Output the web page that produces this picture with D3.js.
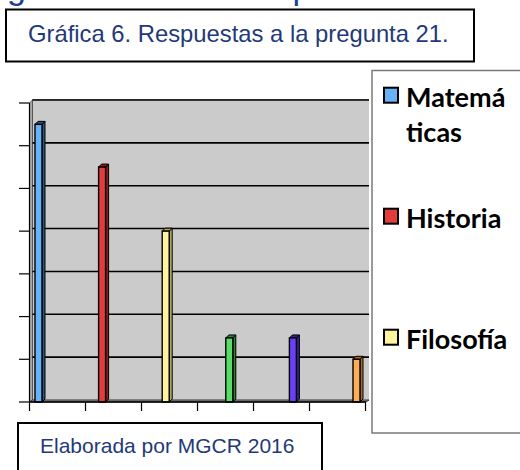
<!DOCTYPE html>
<html>
<head>
<meta charset="utf-8">
<script src="https://cdn.jsdelivr.net/npm/d3@7"></script>
<style>
  html, body { margin: 0; padding: 0; background: #ffffff; }
  svg { display: block; }
</style>
</head>
<body>
<svg id="chart" width="520" height="470"></svg>
<script>
// ---- data ----
const categories = ["Matemáticas", "Historia", "Filosofía", "Química", "Biología", "Otras"];
const values = [13, 11, 8, 3, 3, 2];
const legendLines = [["Matemá", "ticas"], ["Historia"], ["Filosofía"]];
const yTicks = [0, 2, 4, 6, 8, 10, 12, 14];
const xTickIdx = [0, 1, 2, 3, 4, 5, 6];
const colors = ["#68b3f7", "#e23c3c", "#fff39c", "#58de68", "#6a40f2", "#ffac58"];
const sideColors = ["#2f5478", "#8e1c1c", "#b0a862", "#2b7d33", "#381e94", "#a86c22"];
const titleText = "Gráfica 6. Respuestas a la pregunta 21.";
const sourceText = "Elaborada por MGCR 2016";
const headerText = "gráfica con el total por alumno";

const svg = d3.select("#chart");

// header text cut off at top (as in the reference)
svg.append("text").attr("x", 7).attr("y", -1.5)
  .attr("font-family", "'Liberation Sans', Arial, sans-serif")
  .attr("font-size", 34).attr("fill", "#1d3f8f").text(headerText);

// title box
svg.append("rect").attr("x", 6).attr("y", 9.5).attr("width", 468).attr("height", 52)
  .attr("fill", "#fff").attr("stroke", "#000").attr("stroke-width", 2);
svg.append("text").attr("x", 28).attr("y", 42)
  .attr("font-family", "'Liberation Sans', Arial, sans-serif")
  .attr("font-size", 23.8).attr("fill", "#1f3a78").text(titleText);

// ---- plot ----
const depth = 3;
const yBack = d3.scaleLinear().domain([0, 14]).range([400, 100]);
const yFront = d3.scaleLinear().domain([0, 14]).range([402, 103]);
const x = d3.scaleBand().domain(categories).range([35, 360]).paddingInner(0.89).paddingOuter(0);
const xTick = d3.scaleLinear().domain([0, 6]).range([29.5, 365.5]);

const plot = svg.append("g");
// back wall
plot.append("rect").attr("x", 32).attr("y", 100).attr("width", 337).attr("height", 300)
  .attr("fill", "#cbcbcb");
// side wall
plot.append("path").attr("d", `M29.5,${yFront(0)} L29.5,${yFront(14)} L32.5,${yBack(14)} L32.5,${yBack(0)} Z`)
  .attr("fill", "#a9a9a9").attr("stroke", "#555").attr("stroke-width", 1);
// floor
plot.append("path").attr("d", `M29.5,${yFront(0)} L366,${yFront(0)} L369,${yBack(0)} L32.5,${yBack(0)} Z`)
  .attr("fill", "#9a9a9a").attr("stroke", "#333").attr("stroke-width", 1);
// top edge
plot.append("line").attr("x1", 32).attr("x2", 369).attr("y1", 99.5).attr("y2", 99.5)
  .attr("stroke", "#999").attr("stroke-width", 1);

// gridlines on back wall
plot.selectAll("line.grid").data(yTicks.slice(1)).join("line").attr("class", "grid")
  .attr("x1", 32.5).attr("x2", 369).attr("y1", d => yBack(d)).attr("y2", d => yBack(d))
  .attr("stroke", "#000").attr("stroke-width", 1.6);

// y axis line + ticks
plot.append("line").attr("x1", 29.5).attr("x2", 29.5).attr("y1", yFront(14)).attr("y2", yFront(0))
  .attr("stroke", "#000").attr("stroke-width", 1.2);
plot.selectAll("line.ytick").data(yTicks).join("line").attr("class", "ytick")
  .attr("x1", 19).attr("x2", 29.5).attr("y1", d => yFront(d)).attr("y2", d => yFront(d))
  .attr("stroke", "#000").attr("stroke-width", 1.2);

// bars (3D)
const bars = plot.selectAll("g.bar").data(values).join("g").attr("class", "bar");
bars.each(function(v, i) {
  const g = d3.select(this);
  const x0 = x(categories[i]);
  const w = x.bandwidth();
  const yt = yFront(v);
  const yb = yFront(0);
  g.append("path").attr("d", `M${x0 + w},${yb} L${x0 + w},${yt} L${x0 + w + depth},${yt - depth} L${x0 + w + depth},${yb - depth} Z`)
    .attr("fill", sideColors[i]).attr("stroke", "#000").attr("stroke-width", 1);
  g.append("path").attr("d", `M${x0},${yt} L${x0 + depth},${yt - depth} L${x0 + w + depth},${yt - depth} L${x0 + w},${yt} Z`)
    .attr("fill", sideColors[i]).attr("stroke", "#000").attr("stroke-width", 1);
  g.append("rect").attr("x", x0).attr("y", yt).attr("width", w).attr("height", yb - yt)
    .attr("fill", colors[i]).attr("stroke", "#000").attr("stroke-width", 1.4);
});

// x axis line + ticks
plot.append("line").attr("x1", 29.5).attr("x2", 366).attr("y1", yFront(0)).attr("y2", yFront(0))
  .attr("stroke", "#000").attr("stroke-width", 1.4);
plot.selectAll("line.xtick").data(xTickIdx).join("line").attr("class", "xtick")
  .attr("x1", d => xTick(d)).attr("x2", d => xTick(d)).attr("y1", yFront(0)).attr("y2", yFront(0) + 9)
  .attr("stroke", "#000").attr("stroke-width", 1.2);

// ---- legend (only the first three entries fit in the visible box) ----
svg.append("rect").attr("x", 372).attr("y", 70.5).attr("width", 160).attr("height", 362.5)
  .attr("fill", "#fff").attr("stroke", "#7a7a7a").attr("stroke-width", 1.5);
const legY = d3.scaleLinear().domain([0, 1]).range([106.7, 227.7]);
const items = svg.selectAll("g.item").data(categories.slice(0, legendLines.length)).join("g").attr("class", "item")
  .attr("transform", (d, i) => `translate(0,${legY(i)})`);
items.append("rect").attr("x", 384).attr("y", -19).attr("width", 14).attr("height", 15)
  .attr("fill", (d, i) => colors[i]).attr("stroke", "#000").attr("stroke-width", 2);
items.each(function(d, i) {
  const t = d3.select(this).append("text").attr("x", 406).attr("y", 0)
    .attr("font-family", "Lato, 'Open Sans', sans-serif").attr("font-weight", "bold")
    .attr("font-size", 27).attr("fill", "#000");
  legendLines[i].forEach((line, j) => {
    t.append("tspan").attr("x", 406).attr("dy", j === 0 ? 0 : 35).text(line);
  });
});

// ---- source box ----
svg.append("rect").attr("x", 18).attr("y", 423).attr("width", 304).attr("height", 60)
  .attr("fill", "#fff").attr("stroke", "#000").attr("stroke-width", 2);
svg.append("text").attr("x", 40).attr("y", 452.5)
  .attr("font-family", "'Liberation Sans', Arial, sans-serif")
  .attr("font-size", 21).attr("fill", "#1f3a78").text(sourceText);
</script>
</body>
</html>
